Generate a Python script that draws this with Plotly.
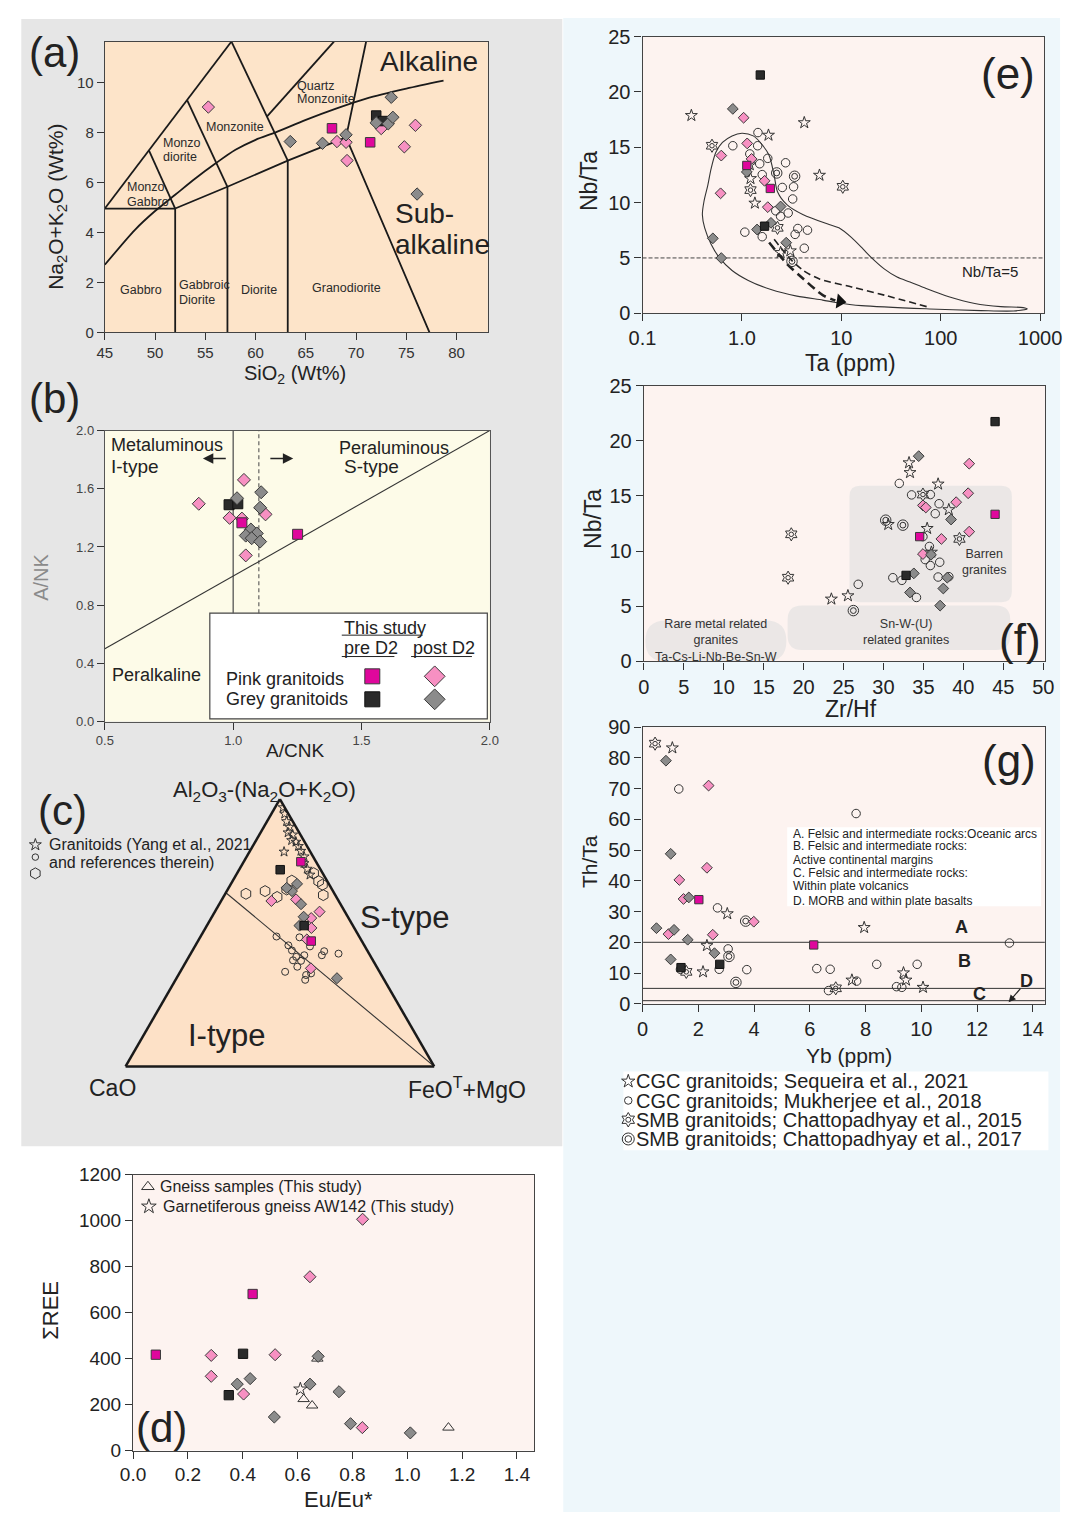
import math
import plotly.graph_objects as go

W, H = 1081, 1523
FONT = "Arial, Liberation Sans, Helvetica, sans-serif"

# ======================= DATA =======================
# (a) TAS diagram: SiO2 (wt%) vs Na2O+K2O (wt%)
a_pink_sio2 = [55.3, 68.1, 69.0, 69.1, 72.5, 74.8, 75.9]
a_pink_alk = [9.01, 7.63, 7.60, 6.87, 8.15, 7.42, 8.28]
a_mag_sio2 = [67.6, 71.4]
a_mag_alk = [8.16, 7.60]
a_blk_sio2 = [72.0, 72.7]
a_blk_alk = [8.67, 8.45]
a_grey_sio2 = [63.45, 66.66, 69.0, 73.5, 72.0, 73.2, 73.66, 76.07]
a_grey_alk = [7.63, 7.56, 7.90, 9.40, 8.38, 8.34, 8.60, 5.53]
# TAS field boundaries
a_field_lines = [
    [(45, 4.95), (57.6, 11.63)],
    [(45, 4.95), (52, 4.95)],
    [(49.4, 7.27), (52, 4.95)],
    [(53.2, 9.28), (57.2, 5.82)],
    [(57.6, 11.63), (63.2, 6.87)],
    [(61.1, 8.62), (67.8, 11.63)],
    [(71.0, 11.63), (69.0, 7.8), (77.3, 0)],
    [(52, 0), (52, 4.95)],
    [(57.2, 0), (57.2, 5.82)],
    [(63.2, 0), (63.2, 6.87)],
    [(52, 4.95), (57.2, 5.82), (63.2, 6.87), (69.0, 7.8)],
]
a_alk_curve_sio2 = [45, 48, 50, 52, 54, 56, 58, 60, 62, 65, 68, 71, 75, 78.7]
a_alk_curve_alk = [2.7, 4.1, 4.85, 5.5, 6.15, 6.75, 7.3, 7.7, 8.0, 8.5, 8.95, 9.35, 9.75, 10.07]
a_field_names = [
    ("Quartz", 63.97, 9.86), ("Monzonite", 63.97, 9.33),
    ("Monzonite", 54.86, 8.23),
    ("Monzo", 50.62, 7.57), ("diorite", 50.62, 7.0),
    ("Monzo", 47.0, 5.8), ("Gabbro", 47.0, 5.23),
    ("Gabbro", 46.31, 1.71),
    ("Gabbroic", 52.17, 1.9), ("Diorite", 52.17, 1.31),
    ("Diorite", 58.31, 1.71),
    ("Granodiorite", 65.38, 1.77),
]
a_series_names = [("Alkaline", 72.17, 10.85), ("Sub-", 73.72, 4.77), ("alkaline", 73.66, 3.5)]

# (b) A/CNK vs A/NK
b_pink_acnk = [0.866, 1.042, 0.986, 1.034, 1.126, 1.049]
b_pink_ank = [1.497, 1.661, 1.40, 1.395, 1.424, 1.142]
b_mag_acnk = [1.034, 1.251]
b_mag_ank = [1.366, 1.287]
b_blk_acnk = [0.984, 1.018]
b_blk_ank = [1.49, 1.497]
b_grey_acnk = [1.015, 1.109, 1.105, 1.069, 1.049, 1.092, 1.072, 1.105]
b_grey_ank = [1.535, 1.576, 1.47, 1.32, 1.278, 1.293, 1.26, 1.237]

# (c) ternary (a = Al2O3-(Na2O+K2O), b = CaO, c = FeOT+MgO)
c_star = [(0.969, 0.005, 0.026), (0.945, 0.012, 0.043), (0.917, 0.020, 0.063), (0.896, 0.021, 0.083),
          (0.875, 0.036, 0.089), (0.867, 0.025, 0.108), (0.846, 0.039, 0.115), (0.840, 0.028, 0.132),
          (0.824, 0.028, 0.148), (0.806, 0.029, 0.165), (0.785, 0.029, 0.186), (0.760, 0.042, 0.198),
          (0.803, 0.085, 0.112), (0.717, 0.044, 0.239), (0.739, 0.042, 0.219)]
c_hex = [(0.646, 0.287, 0.067), (0.656, 0.220, 0.124), (0.634, 0.192, 0.174), (0.695, 0.114, 0.191),
         (0.662, 0.147, 0.191), (0.723, 0.029, 0.248), (0.693, 0.028, 0.279), (0.680, 0.022, 0.298),
         (0.641, 0.039, 0.320)]
c_circle = [(0.486, 0.268, 0.246), (0.453, 0.246, 0.301), (0.434, 0.244, 0.322), (0.410, 0.242, 0.348),
            (0.397, 0.259, 0.344), (0.483, 0.195, 0.322), (0.416, 0.213, 0.371), (0.395, 0.234, 0.371),
            (0.373, 0.257, 0.370), (0.449, 0.178, 0.373), (0.354, 0.306, 0.340), (0.324, 0.256, 0.420),
            (0.416, 0.156, 0.428), (0.431, 0.141, 0.428), (0.422, 0.099, 0.479), (0.342, 0.244, 0.414),
            (0.348, 0.225, 0.427)]
c_blk = [(0.736, 0.131, 0.133), (0.527, 0.158, 0.315)]
c_mag = [(0.766, 0.049, 0.185), (0.469, 0.164, 0.367)]
c_grey = [(0.683, 0.103, 0.214), (0.656, 0.133, 0.211), (0.668, 0.144, 0.188), (0.607, 0.128, 0.265),
          (0.560, 0.143, 0.297), (0.527, 0.173, 0.300), (0.330, 0.150, 0.520)]
c_pink = [(0.619, 0.218, 0.163), (0.625, 0.135, 0.240), (0.579, 0.082, 0.339), (0.555, 0.121, 0.324),
          (0.518, 0.139, 0.343), (0.475, 0.175, 0.350), (0.367, 0.216, 0.417)]
c_divider = [(0.65, 0.35, 0.0), (0.0, 0.0, 1.0)]

# (d) Eu/Eu* vs sum REE
d_pink_eu = [0.837, 0.645, 0.285, 0.285, 0.403, 0.518, 0.836]
d_pink_ree = [1006, 756, 414, 323, 246, 417, 100]
d_mag_eu = [0.083, 0.436]
d_mag_ree = [417, 681]
d_blk_eu = [0.401, 0.349]
d_blk_ree = [421, 241]
d_grey_eu = [0.380, 0.427, 0.515, 0.645, 0.675, 0.751, 0.793, 1.011]
d_grey_ree = [289, 313, 146, 289, 410, 256, 117, 77]
d_gneiss_eu = [0.622, 0.653, 1.15, 0.672]
d_gneiss_ree = [224, 196, 100, 400]
d_garnet_eu = [0.61]
d_garnet_ree = [267]

# (e) Ta (ppm) vs Nb/Ta
e_blk_ta = [1.53, 1.69]
e_blk_nbta = [21.53, 7.87]
e_mag_ta = [1.12, 1.93]
e_mag_nbta = [13.36, 11.28]
e_pink_ta = [1.04, 0.62, 0.61, 1.13, 1.25, 1.69, 1.82]
e_pink_nbta = [17.67, 14.25, 10.84, 15.35, 13.95, 11.97, 9.59]
e_grey_ta = [0.81, 0.51, 0.62, 1.12, 1.42, 2.45, 1.96, 2.79]
e_grey_nbta = [18.47, 6.77, 4.99, 12.77, 7.57, 9.65, 8.17, 6.38]
e_seq_ta = [0.31, 1.85, 4.24, 6.03, 1.20, 1.22, 1.35, 2.45, 3.07]
e_seq_nbta = [17.87, 16.09, 17.22, 12.47, 13.42, 12.17, 9.95, 5.49, 5.64]
e_chat15_ta = [0.50, 1.22, 10.35, 2.28]
e_chat15_nbta = [15.14, 11.13, 11.43, 7.72]
e_muk_ta = [0.81, 1.45, 1.44, 1.2, 1.51, 1.82, 1.6, 2.75, 2.55, 3.31, 3.24, 2.19, 2.92, 2.45,
            1.07, 1.6, 3.65, 4.57, 3.43, 4.24]
e_muk_nbta = [15.14, 16.33, 15.14, 14.4, 13.51, 14.0, 12.53, 13.6, 11.37, 11.43, 10.33, 9.26, 9.06, 8.76,
              7.33, 6.92, 7.66, 7.51, 7.13, 5.88]
e_chat17_ta = [2.24, 3.39, 3.19]
e_chat17_nbta = [12.68, 12.38, 4.69]
# evolution envelope and trends
e_env_ta = [1.0, 0.796, 0.637, 0.547, 0.490, 0.454, 0.415, 0.400, 0.422, 0.490, 0.590, 0.796, 1.159,
            1.959, 3.573, 6.50, 8.77, 15.96, 77.1, 255.9, 540.8, 741.3, 676.1, 400.9, 220.3, 120.8,
            71.4, 49.1, 36.4, 27.0, 19.95, 16.6, 12.7, 9.46, 7.55, 4.14, 2.85, 2.28, 2.11, 1.88, 1.63,
            1.30, 1.0]
e_env_nbta = [16.27, 16.03, 15.44, 14.55, 13.07, 11.58, 10.1, 8.91, 7.72, 6.24, 5.05, 3.87, 2.97, 2.14,
              1.55, 1.19, 0.98, 0.69, 0.39, 0.24, 0.21, 0.39, 0.51, 0.60, 0.89, 1.49, 2.23, 2.82, 3.27,
              4.01, 5.05, 5.79, 6.83, 7.72, 8.02, 8.91, 9.80, 10.99, 12.47, 14.25, 15.14, 16.03, 16.27]
e_trend1_ta = [1.88, 2.85, 4.14, 6.50, 8.71]
e_trend1_nbta = [6.39, 4.45, 3.12, 1.64, 1.15]
e_trend1_head = (9.7, 1.07)
e_trend2_ta = [2.11, 3.07, 4.14, 6.03, 12.7, 27.0, 77.1]
e_trend2_nbta = [6.68, 4.9, 3.87, 3.1, 2.38, 1.64, 0.53]
e_nbta_limit = 5

# (f) Zr/Hf vs Nb/Ta
f_blk_zrhf = [43.97, 32.83]
f_blk_nbta = [21.73, 7.80]
f_mag_zrhf = [43.97, 34.53]
f_mag_nbta = [13.33, 11.31]
f_pink_zrhf = [40.73, 40.6, 39.1, 34.94, 35.3, 40.73, 37.25, 34.94]
f_pink_nbta = [17.92, 15.24, 14.43, 14.14, 13.95, 11.76, 11.1, 9.73]
f_grey_zrhf = [34.41, 38.46, 35.95, 33.8, 33.32, 37.49, 37.98, 37.09]
f_grey_nbta = [18.6, 12.86, 9.67, 7.98, 6.25, 6.61, 7.59, 5.06]
f_seq_zrhf = [33.2, 33.32, 36.84, 38.18, 35.47, 30.6, 23.48, 25.55, 36.0]
f_seq_nbta = [18.0, 17.11, 16.07, 13.75, 12.05, 12.41, 5.65, 5.95, 9.9]
f_chat15_zrhf = [18.46, 18.06, 34.94, 39.51]
f_chat15_nbta = [11.52, 7.59, 15.12, 11.1]
f_muk_zrhf = [31.98, 33.52, 35.87, 36.96, 36.48, 34.94, 35.75, 35.22, 35.87, 37.04, 31.17, 32.3,
              36.84, 38.18, 34.13, 26.84]
f_muk_nbta = [16.13, 15.09, 15.12, 14.29, 13.39, 11.31, 10.42, 9.23, 8.69, 8.99, 7.59, 7.35,
              7.65, 7.68, 5.80, 6.99]
f_chat17_zrhf = [30.28, 32.43, 26.23]
f_chat17_nbta = [12.8, 12.35, 4.61]
# fields: (x0, x1, y0, y1, corner rx, corner ry)
f_fields = [(25.75, 46.07, 5.36, 15.92, 1.3, 0.95),
            (18.0, 45.87, 1.04, 5.06, 1.8, 1.3),
            (0.2, 17.85, 0.0, 3.72, 2.6, 1.86)]
f_field_text = [("Barren<br>granites", 42.6, 8.97),
                ("Sn-W-(U)<br>related granites", 32.8, 2.68),
                ("Rare metal related<br>granites<br>Ta-Cs-Li-Nb-Be-Sn-W", 9.03, 1.86)]

# (g) Yb (ppm) vs Th/Ta
g_chat15_yb = [0.45, 6.93, 1.57]
g_chat15_thta = [84.65, 5.02, 10.37]
g_seq_yb = [1.07, 3.04, 2.31, 2.17, 7.95, 7.51, 9.36, 9.45, 10.06]
g_seq_thta = [83.26, 29.29, 18.92, 10.37, 24.8, 7.7, 10.05, 7.7, 5.34]
g_muk_yb = [1.3, 7.66, 2.69, 3.07, 2.75, 3.74, 1.36, 6.25, 6.73, 6.67, 7.68, 8.4, 9.11, 9.3, 9.85, 13.16]
g_muk_thta = [69.9, 61.9, 31.2, 17.85, 11.22, 11.1, 11.22, 11.44, 11.22, 4.28, 7.37, 12.83, 5.56, 5.34,
              12.83, 19.77]
g_chat17_yb = [3.70, 3.1, 3.35]
g_chat17_thta = [26.9, 15.4, 6.95]
g_grey_yb = [0.84, 1.01, 1.66, 0.5, 1.13, 1.62, 1.01, 2.58]
g_grey_thta = [79.1, 48.8, 34.6, 24.6, 24.05, 20.84, 14.43, 16.46]
g_pink_yb = [2.37, 2.31, 1.32, 1.47, 0.93, 2.52, 3.99]
g_pink_thta = [71.0, 44.25, 40.3, 34.1, 22.66, 22.45, 26.7]
g_mag_yb = [2.02, 6.14]
g_mag_thta = [33.88, 19.13]
g_blk_yb = [1.38, 2.77]
g_blk_thta = [11.76, 12.83]
g_limits = [20, 5, 1]
g_field_letters = [("A", 11.45, 25.0), ("B", 11.54, 13.8), ("C", 12.09, 3.2), ("D", 13.77, 7.4)]
g_key_lines = ["A. Felsic and intermediate rocks:Oceanic arcs",
               "B. Felsic and intermediate rocks:",
               "Active continental margins",
               "C. Felsic and intermediate rocks:",
               "Within plate volcanics",
               "D. MORB and within plate basalts"]

refs_legend = ["CGC granitoids; Sequeira et al., 2021",
               "CGC granitoids; Mukherjee et al., 2018",
               "SMB granitoids; Chattopadhyay et al., 2015",
               "SMB granitoids; Chattopadhyay et al., 2017"]

# ======================= STYLE / LAYOUT =======================
PINK = "#f790c2"
MAGENTA = "#df079c"
BLACK = "#2a2a2a"
GREY = "#8b8b8b"
EDGE = "#3a3a3a"
OPEN = "#333333"
TXT = "#222222"


def X(p):
    return p / W


def Y(p):
    return 1 - p / H


AX = {"a": ("x", "y"), "b": ("x2", "y2"), "d": ("x3", "y3"), "e": ("x4", "y4"),
      "f": ("x5", "y5"), "g": ("x6", "y6"), "o": ("x7", "y7")}

STY = {
    "pink": dict(symbol="diamond", color=PINK, line=dict(color=EDGE, width=1)),
    "magenta": dict(symbol="square", color=MAGENTA, line=dict(color=EDGE, width=1)),
    "black": dict(symbol="square", color=BLACK, line=dict(color="#111111", width=1)),
    "grey": dict(symbol="diamond", color=GREY, line=dict(color=EDGE, width=1)),
    "star": dict(symbol="star-open", color=OPEN, line=dict(color=OPEN, width=1)),
    "circle": dict(symbol="circle-open", color=OPEN, line=dict(color=OPEN, width=1)),
    "hex": dict(symbol="hexagon-open", color=OPEN, line=dict(color=OPEN, width=1)),
    "tri": dict(symbol="triangle-up-open", color=OPEN, line=dict(color=OPEN, width=1)),
}

fig = go.Figure()


def mk(kind, size):
    m = dict(STY[kind])
    m["size"] = size
    return m


def add_xy(x, y, kind, ax, size):
    xa, ya = AX[ax]
    common = dict(mode="markers", xaxis=xa, yaxis=ya, showlegend=False, hoverinfo="skip")
    if kind == "sun":
        fig.add_trace(go.Scatter(x=x, y=y, marker=dict(symbol="hexagram-open", size=size, color=OPEN,
                                                       line=dict(color=OPEN, width=1)), **common))
        fig.add_trace(go.Scatter(x=x, y=y, marker=dict(symbol="circle-open", size=size * 0.45, color=OPEN,
                                                       line=dict(color=OPEN, width=1)), **common))
    elif kind == "double":
        fig.add_trace(go.Scatter(x=x, y=y, marker=dict(symbol="circle-open", size=size, color=OPEN,
                                                       line=dict(color=OPEN, width=1)), **common))
        fig.add_trace(go.Scatter(x=x, y=y, marker=dict(symbol="circle-open", size=size * 0.55, color=OPEN,
                                                       line=dict(color=OPEN, width=1)), **common))
    else:
        fig.add_trace(go.Scatter(x=x, y=y, marker=mk(kind, size), **common))


def add_line(x, y, ax, color="#1a1a1a", width=1.6, dash="solid", shape="linear"):
    xa, ya = AX[ax]
    fig.add_trace(go.Scatter(x=x, y=y, mode="lines", xaxis=xa, yaxis=ya, showlegend=False,
                             hoverinfo="skip", line=dict(color=color, width=width, dash=dash, shape=shape,
                                                         smoothing=0.8)))


def add_tern(triples, kind, size):
    fig.add_trace(go.Scatterternary(a=[t[0] for t in triples], b=[t[1] for t in triples],
                                    c=[t[2] for t in triples], mode="markers", marker=mk(kind, size),
                                    showlegend=False, hoverinfo="skip", subplot="ternary"))


anns = []


def txt(text, x, y, ax="o", size=14, xanchor="center", yanchor="middle", color=TXT, angle=0):
    xa, ya = AX[ax]
    anns.append(dict(text=text, x=x, y=y, xref=xa, yref=ya, showarrow=False, textangle=angle,
                     font=dict(family=FONT, size=size, color=color), xanchor=xanchor, yanchor=yanchor))


def arrow(x_head, y_head, x_tail, y_tail, ax, width=1.5, size=1.3):
    xa, ya = AX[ax]
    anns.append(dict(x=x_head, y=y_head, ax=x_tail, ay=y_tail, xref=xa, yref=ya, axref=xa, ayref=ya,
                     text="", showarrow=True, arrowhead=2,
                     arrowsize=size, arrowwidth=width, arrowcolor="#222"))


shapes = []
# page backgrounds
shapes.append(dict(type="rect", xref="paper", yref="paper", x0=X(7.5), x1=X(565), y0=Y(1152), y1=Y(8),
                   fillcolor="#e6e6e6", line=dict(width=0), layer="below"))
shapes.append(dict(type="rect", xref="paper", yref="paper", x0=X(566), x1=X(1078), y0=Y(1523), y1=Y(7),
                   fillcolor="#eef7fb", line=dict(width=0), layer="below"))
shapes.append(dict(type="rect", xref="paper", yref="paper", x0=X(628), x1=X(1066), y0=Y(1156), y1=Y(1076),
                   fillcolor="white", line=dict(width=0), layer="below"))
# plot area backgrounds
for key, col in [("a", "#fde4c9"), ("b", "#fdfbe8"), ("d", "#fdf3f0"), ("e", "#fdf3f0"),
                 ("f", "#fdf3f0"), ("g", "#fdf3f0")]:
    xa, ya = AX[key]
    shapes.append(dict(type="rect", xref=xa + " domain", yref=ya + " domain", x0=0, x1=1, y0=0, y1=1,
                       fillcolor=col, line=dict(width=0), layer="below"))

# ---------------- (a) ----------------
for seg in a_field_lines:
    add_line([p[0] for p in seg], [p[1] for p in seg], "a", width=1.8)
add_line(a_alk_curve_sio2, a_alk_curve_alk, "a", width=1.8, shape="spline")
add_xy(a_pink_sio2, a_pink_alk, "pink", "a", 9.5)
add_xy(a_blk_sio2, a_blk_alk, "black", "a", 9.5)
add_xy(a_grey_sio2, a_grey_alk, "grey", "a", 9.5)
add_xy(a_mag_sio2, a_mag_alk, "magenta", "a", 9.5)
for name, x, y in a_field_names:
    txt(name, x, y, "a", size=12.5, xanchor="left", color="#2a2a2a")
for name, x, y in a_series_names:
    txt(name, x, y, "a", size=28, xanchor="left")

# ---------------- (b) ----------------
shapes.append(dict(type="rect", xref="x2", yref="y2", x0=0.909, x1=1.99, y0=0.018, y1=0.745,
                   fillcolor="white", line=dict(color="#444", width=1.2), layer="below"))
shapes.append(dict(type="line", xref="x2", yref="y2", x0=1.0, x1=1.0, y0=0.745, y1=2.0,
                   line=dict(color="#555", width=1.3), layer="below"))
shapes.append(dict(type="line", xref="x2", yref="y2", x0=1.1, x1=1.1, y0=0.745, y1=2.0,
                   line=dict(color="#555", width=1.1, dash="4px,3px"), layer="below"))
add_line([0.5, 2.0], [0.5, 2.0], "b", color="#333", width=1.1)
add_xy(b_pink_acnk, b_pink_ank, "pink", "b", 10)
add_xy(b_blk_acnk, b_blk_ank, "black", "b", 10)
add_xy(b_grey_acnk, b_grey_ank, "grey", "b", 10)
add_xy(b_mag_acnk, b_mag_ank, "magenta", "b", 10)
# key inside (b)
b_key = [("magenta", 1.542, 0.311, 15), ("pink", 1.785, 0.311, 16),
         ("black", 1.542, 0.153, 15), ("grey", 1.785, 0.153, 16)]
for kind, x, y, s in b_key:
    add_xy([x], [y], kind, "b", s)
for t, x, y, s in [("Metaluminous", 0.518, 1.90, 18), ("I-type", 0.518, 1.75, 19),
                   ("Peraluminous", 1.403, 1.88, 18), ("S-type", 1.423, 1.756, 19),
                   ("Peralkaline", 0.522, 0.323, 18), ("This study", 1.423, 0.643, 18),
                   ("pre D2", 1.423, 0.503, 18), ("post D2", 1.693, 0.503, 18),
                   ("Pink granitoids", 0.963, 0.293, 18), ("Grey granitoids", 0.963, 0.153, 18)]:
    txt(t, x, y, "b", size=s, xanchor="left")
for x0, x1, y in [(1.423, 1.738, 0.594), (1.423, 1.628, 0.447), (1.693, 1.93, 0.447)]:
    shapes.append(dict(type="line", xref="x2", yref="y2", x0=x0, x1=x1, y0=y, y1=y,
                       line=dict(color=TXT, width=1)))
arrow(0.882, 1.808, 0.977, 1.808, "b", width=1.6)
arrow(1.234, 1.808, 1.139, 1.808, "b", width=1.6)

# ---------------- (c) ternary ----------------
fig.add_trace(go.Scatterternary(a=[t[0] for t in c_divider], b=[t[1] for t in c_divider],
                                c=[t[2] for t in c_divider], mode="lines", line=dict(color="#333", width=1.1),
                                showlegend=False, hoverinfo="skip", subplot="ternary"))
add_tern(c_circle, "circle", 7)
add_tern(c_hex, "hex", 11)
add_tern(c_star, "star", 7.5)
add_tern(c_pink, "pink", 8.5)
add_tern(c_grey, "grey", 8.5)
add_tern(c_blk, "black", 8.5)
add_tern(c_mag, "magenta", 8.5)

# ---------------- (d) ----------------
add_xy(d_gneiss_eu, d_gneiss_ree, "tri", "d", 10)
add_xy(d_garnet_eu, d_garnet_ree, "star", "d", 10)
add_xy(d_pink_eu, d_pink_ree, "pink", "d", 9.3)
add_xy(d_grey_eu, d_grey_ree, "grey", "d", 9.3)
add_xy(d_blk_eu, d_blk_ree, "black", "d", 9.3)
add_xy(d_mag_eu, d_mag_ree, "magenta", "d", 9.3)

# ---------------- (e) ----------------
shapes.append(dict(type="line", xref="x4 domain", yref="y4", x0=0, x1=1, y0=e_nbta_limit, y1=e_nbta_limit,
                   line=dict(color="#444", width=1, dash="4px,2px"), layer="below"))
add_line(e_env_ta, e_env_nbta, "e", color="#333", width=1.1, shape="spline")
add_line(e_trend1_ta, e_trend1_nbta, "e", color="#222", width=2.6, dash="9px,5px", shape="spline")
add_line(e_trend2_ta, e_trend2_nbta, "e", color="#222", width=1.6, dash="7px,4px", shape="spline")
fig.add_trace(go.Scatter(x=[e_trend1_head[0]], y=[e_trend1_head[1]], mode="markers", xaxis="x4", yaxis="y4",
                         marker=dict(symbol="triangle-right", size=13, color="#111", angle=8),
                         showlegend=False, hoverinfo="skip"))
add_xy(e_muk_ta, e_muk_nbta, "circle", "e", 8.5)
add_xy(e_chat17_ta, e_chat17_nbta, "double", "e", 10.5)
add_xy(e_seq_ta, e_seq_nbta, "star", "e", 9)
add_xy(e_chat15_ta, e_chat15_nbta, "sun", "e", 10)
add_xy(e_pink_ta, e_pink_nbta, "pink", "e", 8.3)
add_xy(e_grey_ta, e_grey_nbta, "grey", "e", 8.3)
add_xy(e_blk_ta, e_blk_nbta, "black", "e", 8.3)
add_xy(e_mag_ta, e_mag_nbta, "magenta", "e", 8.3)
txt("Nb/Ta=5", math.log10(157), 3.77, "e", size=15, xanchor="left")


# ---------------- (f) ----------------
def rrect(x0, x1, y0, y1, rx, ry):
    return (f"M{x0 + rx},{y0} L{x1 - rx},{y0} Q{x1},{y0} {x1},{y0 + ry} L{x1},{y1 - ry} "
            f"Q{x1},{y1} {x1 - rx},{y1} L{x0 + rx},{y1} Q{x0},{y1} {x0},{y1 - ry} "
            f"L{x0},{y0 + ry} Q{x0},{y0} {x0 + rx},{y0} Z")


for (x0, x1, y0, y1, rx, ry) in f_fields:
    shapes.append(dict(type="path", xref="x5", yref="y5", path=rrect(x0, x1, y0, y1, rx, ry),
                       fillcolor="#ebe7e6", line=dict(width=0), layer="below"))
for t, x, y in f_field_text:
    txt(t, x, y, "f", size=12.5, color="#333")
add_xy(f_muk_zrhf, f_muk_nbta, "circle", "f", 8.5)
add_xy(f_chat17_zrhf, f_chat17_nbta, "double", "f", 10.5)
add_xy(f_seq_zrhf, f_seq_nbta, "star", "f", 9)
add_xy(f_chat15_zrhf, f_chat15_nbta, "sun", "f", 10)
add_xy(f_pink_zrhf, f_pink_nbta, "pink", "f", 8.3)
add_xy(f_grey_zrhf, f_grey_nbta, "grey", "f", 8.3)
add_xy(f_blk_zrhf, f_blk_nbta, "black", "f", 8.3)
add_xy(f_mag_zrhf, f_mag_nbta, "magenta", "f", 8.3)

# ---------------- (g) ----------------
for v in g_limits:
    shapes.append(dict(type="line", xref="x6 domain", yref="y6", x0=0, x1=1, y0=v, y1=v,
                       line=dict(color="#333", width=1), layer="below"))
shapes.append(dict(type="rect", xref="x6", yref="y6", x0=5.19, x1=14.29, y0=31.7, y1=57.4,
                   fillcolor="white", line=dict(width=0), layer="below"))
add_xy(g_muk_yb, g_muk_thta, "circle", "g", 8.5)
add_xy(g_chat17_yb, g_chat17_thta, "double", "g", 10.5)
add_xy(g_seq_yb, g_seq_thta, "star", "g", 9)
add_xy(g_chat15_yb, g_chat15_thta, "sun", "g", 10)
add_xy(g_pink_yb, g_pink_thta, "pink", "g", 8.3)
add_xy(g_grey_yb, g_grey_thta, "grey", "g", 8.3)
add_xy(g_blk_yb, g_blk_thta, "black", "g", 8.3)
add_xy(g_mag_yb, g_mag_thta, "magenta", "g", 8.3)
for i, line in enumerate(g_key_lines):
    txt(line, 5.32, [55.26, 51.3, 46.7, 42.6, 38.16, 33.56][i], "g", size=12, xanchor="left", color="#222")
for letter, x, y in g_field_letters:
    txt("<b>" + letter + "</b>", x, y, "g", size=18)
arrow(13.13, 0.5, 13.6, 5.4, "g", width=1.2, size=1.2)

# ---------------- key glyphs (page pixel overlay) ----------------
key_glyphs = [("star", 22, 846, 9), ("circle", 22, 858.5, 6.5), ("hex", 22, 875, 11),
              ("tri", 138, 1193, 11), ("star", 139, 1213, 11),
              ("star", 633, 1086, 10), ("circle", 633, 1105.5, 7.5), ("sun", 633, 1125, 11),
              ("double", 633, 1144.5, 12)]
for kind, x, y, s in key_glyphs:
    add_xy([x], [y], kind, "o", s)

# ---------------- page-level texts ----------------
for t, x, y, s in [("(a)", 42, 42, 42), ("(b)", 42, 393, 42), ("(c)", 50, 811, 42), ("(d)", 152, 1437, 42),
                   ("(e)", 1024, 63, 44), ("(f)", 1037, 638, 44), ("(g)", 1025, 760, 44)]:
    txt(t, x, y, size=s)
txt("Na<sub>2</sub>O+K<sub>2</sub>O (Wt%)", 44, 199, size=21, angle=-90)
txt("SiO<sub>2</sub> (Wt%)", 290, 369, size=20)
txt("A/CNK", 290, 750, size=19)
txt("A/NK", 28, 575, size=20, angle=-90, color="#8a8a8a")
txt("Al<sub>2</sub>O<sub>3</sub>-(Na<sub>2</sub>O+K<sub>2</sub>O)", 258, 791, size=22)
txt("CaO", 102, 1093, size=23)
txt("FeO<sup>T</sup>+MgO", 467, 1093, size=23)
txt("S-type", 403, 920, size=31)
txt("I-type", 219, 1040, size=31)
txt("Granitoids (Yang et al., 2021", 34, 846, size=16, xanchor="left")
txt("and references therein)", 34, 864, size=16, xanchor="left")
txt("ΣREE", 38, 1318, size=22, angle=-90)
txt("Eu/Eu*", 334, 1510, size=22)
txt("Gneiss samples (This study)", 148, 1193, size=16, xanchor="left")
txt("Garnetiferous gneiss AW142 (This study)", 151, 1213, size=16, xanchor="left")
txt("Nb/Ta", 592, 172, size=23, angle=-90)
txt("Ta (ppm)", 862, 357, size=23)
txt("Nb/Ta", 596, 515, size=23, angle=-90)
txt("Zr/Hf", 863, 708, size=23)
txt("Th/Ta", 593, 863, size=21, angle=-90)
txt("Yb (ppm)", 860, 1060, size=21)
for i, t in enumerate(refs_legend):
    txt(t, 639, [1086, 1105.5, 1125, 1144.5][i], size=20, xanchor="left")


# ---------------- axes ----------------
def axis(dom, rng, tickvals, ticktext=None, fontsize=19, color="#222", **kw):
    d = dict(domain=dom, range=rng, tickvals=tickvals, ticks="outside", ticklen=7, tickcolor="#333",
             showline=True, mirror=True, linecolor="#444", linewidth=1.2, showgrid=False, zeroline=False,
             tickfont=dict(family=FONT, size=fontsize, color=color), fixedrange=True)
    if ticktext is not None:
        d["ticktext"] = ticktext
    d.update(kw)
    return d


def tern_axis():
    return dict(showticklabels=False, ticks="", showgrid=False, linecolor="#1a1a1a", linewidth=2.5,
                title=dict(text=""))


layout = dict(
    width=W, height=H, margin=dict(l=0, r=0, t=0, b=0), autosize=False,
    paper_bgcolor="white", plot_bgcolor="rgba(0,0,0,0)", showlegend=False,
    font=dict(family=FONT, color=TXT),
    xaxis=axis([X(93.6), X(488.2)], [45, 83.1], list(range(45, 81, 5)), fontsize=15, color="#333", anchor="y"),
    yaxis=axis([Y(326), Y(31)], [0, 11.63], [0, 2, 4, 6, 8, 10], fontsize=15, color="#333", anchor="x"),
    xaxis2=axis([X(93.6), X(490.4)], [0.5, 2.0], [0.5, 1.0, 1.5, 2.0], ["0.5", "1.0", "1.5", "2.0"],
                fontsize=13, color="#444", anchor="y2", linecolor="#555"),
    yaxis2=axis([Y(721), Y(425.7)], [0, 2.0], [0, 0.4, 0.8, 1.2, 1.6, 2.0],
                ["0.0", "0.4", "0.8", "1.2", "1.6", "2.0"], fontsize=13, color="#444", anchor="x2",
                linecolor="#555"),
    xaxis3=axis([X(122.7), X(536)], [0, 1.4625], [0, 0.2, 0.4, 0.6, 0.8, 1.0, 1.2, 1.4],
                ["0.0", "0.2", "0.4", "0.6", "0.8", "1.0", "1.2", "1.4"], anchor="y3"),
    yaxis3=axis([Y(1460.7), Y(1180.7)], [0, 1200], [0, 200, 400, 600, 800, 1000, 1200], anchor="x3"),
    xaxis4=axis([X(647.7), X(1061.7)], [-1, 3.042], [0.1, 1, 10, 100, 1000], ["0.1", "1.0", "10", "100", "1000"],
                fontsize=20, anchor="y4", type="log"),
    yaxis4=axis([Y(306.7), Y(26)], [0, 25], [0, 5, 10, 15, 20, 25], fontsize=20, anchor="x4"),
    xaxis5=axis([X(649), X(1062.3)], [0, 50.2], list(range(0, 51, 5)), fontsize=20, anchor="y5"),
    yaxis5=axis([Y(660), Y(380)], [0, 25], [0, 5, 10, 15, 20, 25], fontsize=20, anchor="x5"),
    xaxis6=axis([X(647.7), X(1062.3)], [0, 14.43], list(range(0, 15, 2)), fontsize=20, anchor="y6"),
    yaxis6=axis([Y(1007.3), Y(726.7)], [0, 90], list(range(0, 91, 10)), fontsize=20, anchor="x6"),
    xaxis7=dict(domain=[0, 1], range=[0, W], visible=False, fixedrange=True, anchor="y7"),
    yaxis7=dict(domain=[0, 1], range=[H, 0], visible=False, fixedrange=True, anchor="x7"),
    ternary=dict(
        domain=dict(x=[X(115), X(433)], y=[Y(1073), Y(1073 - 275.4)]),
        bgcolor="#fde1c7", sum=1,
        aaxis=tern_axis(), baxis=tern_axis(), caxis=tern_axis(),
    ),
    shapes=shapes,
    annotations=anns,
)
fig.update_layout(**layout)
fig.write_html("out.html")
